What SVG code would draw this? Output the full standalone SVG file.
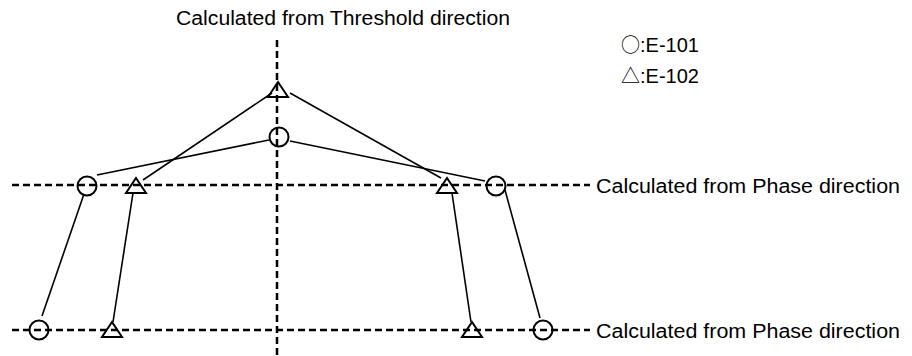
<svg xmlns="http://www.w3.org/2000/svg" width="912" height="356" viewBox="0 0 912 356">
<style>
text{font-family:"Liberation Sans",Arial,"DejaVu Sans",sans-serif;font-size:20px;fill:#000}
.sym{font-family:"Noto Sans CJK JP","DejaVu Sans",sans-serif;font-size:19px}
.axis{stroke:#000;stroke-width:2.5;stroke-dasharray:7 4;fill:none}
.conn{stroke:#000;stroke-width:1.6;fill:none}
.c{fill:none;stroke:#000;stroke-width:2}
.t{fill:none;stroke:#000;stroke-width:2;stroke-linejoin:miter}
</style>
<defs>
<circle id="circ" r="9.5" class="c"/>
<path id="tri" d="M0,-8 L10,7 L-10,7 Z" class="t"/>
</defs>
<g id="axes">
<line class="axis" x1="277" y1="40" x2="277" y2="356"/>
<line class="axis" x1="12" y1="185" x2="590" y2="185"/>
<line class="axis" x1="12" y1="330" x2="590" y2="330"/>
</g>
<g id="connectors">
<line class="conn" x1="272" y1="93" x2="143" y2="180"/>
<line class="conn" x1="290" y1="93" x2="441" y2="178"/>
<line class="conn" x1="269" y1="140" x2="97" y2="175"/>
<line class="conn" x1="290" y1="141" x2="485" y2="181"/>
<line class="conn" x1="84" y1="194" x2="42" y2="316"/>
<line class="conn" x1="133" y1="193" x2="113" y2="322"/>
<line class="conn" x1="452" y1="193" x2="471" y2="322"/>
<line class="conn" x1="505" y1="190" x2="540" y2="318"/>
</g>
<g id="top-triangle"><use href="#tri" x="278" y="90"/></g>
<g id="top-circle"><use href="#circ" x="279" y="137"/></g>
<g id="left-circle-1"><use href="#circ" x="87" y="186"/></g>
<g id="left-triangle-1"><use href="#tri" x="136" y="186"/></g>
<g id="right-triangle-1"><use href="#tri" x="447" y="186"/></g>
<g id="right-circle-1"><use href="#circ" x="496" y="186"/></g>
<g id="left-circle-2"><use href="#circ" x="39" y="330"/></g>
<g id="left-triangle-2"><use href="#tri" x="112" y="330"/></g>
<g id="right-triangle-2"><use href="#tri" x="472" y="330"/></g>
<g id="right-circle-2"><use href="#circ" x="543" y="330"/></g>
<g id="labels">
<text x="176" y="25" textLength="334" lengthAdjust="spacingAndGlyphs">Calculated from Threshold direction</text>
<text x="596" y="193" textLength="304" lengthAdjust="spacingAndGlyphs">Calculated from Phase direction</text>
<text x="596" y="338" textLength="304" lengthAdjust="spacingAndGlyphs">Calculated from Phase direction</text>
<text x="621" y="52"><tspan class="sym">○</tspan>:E-101</text>
<text x="621" y="83"><tspan class="sym">△</tspan>:E-102</text>
</g>
</svg>
